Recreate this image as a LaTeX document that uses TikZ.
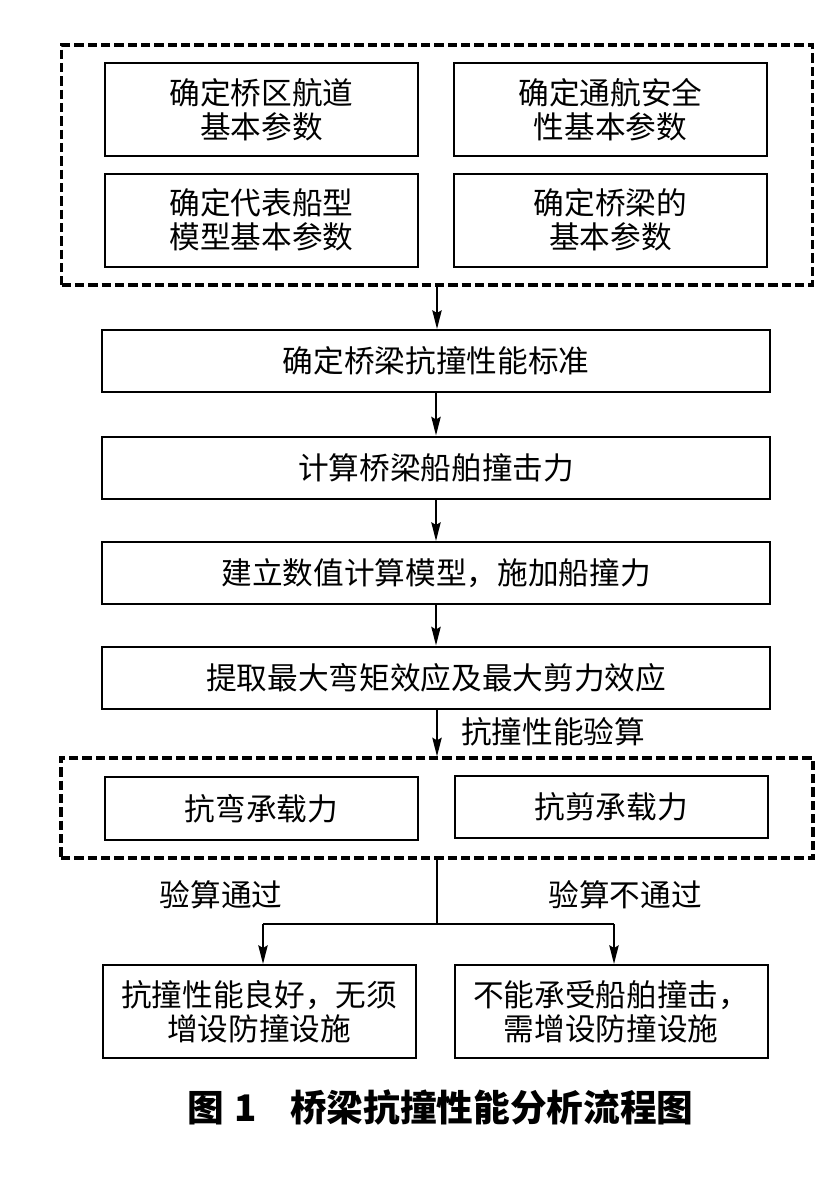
\documentclass[tikz,border=0pt]{standalone}
\usepackage{fontspec}
\setmainfont{Noto Sans CJK SC}
\usetikzlibrary{arrows.meta}
\begin{document}
\begin{tikzpicture}[x=0.75pt,y=-0.75pt,
  box/.style={draw, line width=1.5pt, rectangle, align=center, inner sep=0pt, font=\fontsize{23}{25.5}\selectfont},
  small/.style={box, minimum width=234.75pt, minimum height=69.75pt},
  wide/.style={box, minimum width=501pt, minimum height=46.5pt},
  grp/.style={draw, line width=2.4pt, dash pattern=on 7pt off 3pt, inner sep=0pt},
  arr/.style={line width=1.5pt, -{Stealth[length=14pt,width=7pt,inset=2pt]}},
  lbl/.style={font=\fontsize{23}{25.5}\selectfont, inner sep=0pt}
]
\useasboundingbox (0,0) rectangle (837,1184);
% group 1
\node[grp, minimum width=563.25pt, minimum height=180pt] (g1) at (437,165) {};
\node[small] (a) at (261.5,109.5) {确定桥区航道\\基本参数};
\node[small] (b) at (610.5,109.5) {确定通航安全\\性基本参数};
\node[small] (c) at (261.5,220) {确定代表船型\\模型基本参数};
\node[small] (d) at (610.5,220) {确定桥梁的\\基本参数};
% main chain
\node[wide] (s1) at (436,361) {确定桥梁抗撞性能标准};
\node[wide] (s2) at (436,467.5) {计算桥梁船舶撞击力};
\node[wide] (s3) at (436,573) {建立数值计算模型，施加船撞力};
\node[wide] (s4) at (436,677.5) {提取最大弯矩效应及最大剪力效应};
% group 2
\node[grp, minimum width=564pt, minimum height=75pt] (g2) at (437,808) {};
\node[box, minimum width=234.75pt, minimum height=47pt] (m) at (261.5,808.5) {抗弯承载力};
\node[box, minimum width=234.75pt, minimum height=46.5pt] (v) at (611,807) {抗剪承载力};
% results
\node[small] (ok) at (259,1011.5) {抗撞性能良好，无须\\增设防撞设施};
\node[small] (ng) at (611,1011.5) {不能承受船舶撞击，\\需增设防撞设施};
\coordinate (j) at (437,924);
% connectors
\draw[arr] (g1.south) -- (g1.south |- s1.north);
\draw[arr] (s1) -- (s2);
\draw[arr] (s2) -- (s3);
\draw[arr] (s3) -- (s4);
\draw[arr] (s4.south -| g2.north) -- (g2.north);
\draw[line width=1.5pt] (g2.south) -- (j);
\coordinate (jl) at (263,924);
\coordinate (jr) at (614,924);
\draw[line width=1.5pt] (jl) -- (jr);
\draw[arr] (jl) -- (jl |- ok.north);
\draw[arr] (jr) -- (jr |- ng.north);
% labels
\node[lbl, anchor=west] (l1) at (461,732) {抗撞性能验算};
\node[lbl] (l2) at (221,895) {验算通过};
\node[lbl] (l3) at (625,895) {验算不通过};
% caption
\node[anchor=west, inner sep=0pt, font=\fontsize{27.5}{30}\selectfont\bfseries] (cap) at (187,1107) {图\hspace{0.3em}1\hspace{0.9em}桥梁抗撞性能分析流程图};
\end{tikzpicture}
\end{document}
